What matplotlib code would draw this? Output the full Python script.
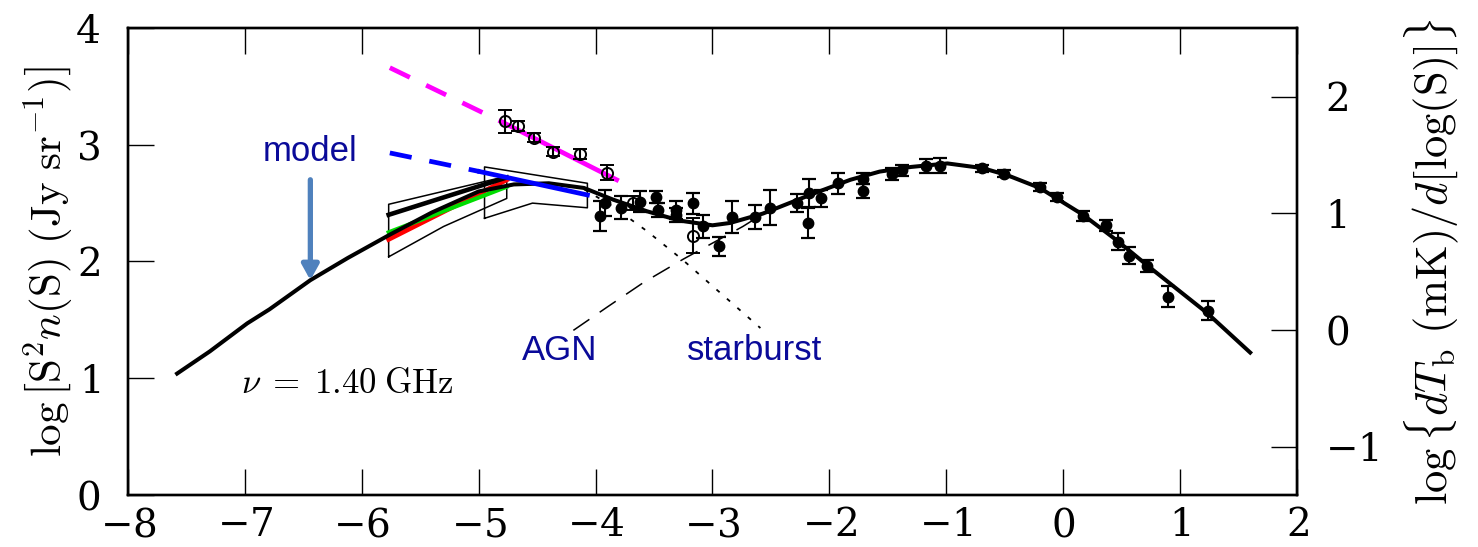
import numpy as np
import matplotlib
matplotlib.use('Agg')
import matplotlib.pyplot as plt

plt.rcParams['mathtext.fontset'] = 'cm'
plt.rcParams['axes.formatter.use_mathtext'] = True
plt.rcParams['font.family'] = 'serif'
plt.rcParams['font.serif'] = ['DejaVu Serif']
plt.rcParams['lines.scale_dashes'] = False

# model curve (solid black)
curve_x = [-7.58, -7.3, -6.98, -6.79, -6.44, -6.12, -5.76, -5.4, -5.0, -4.7, -4.4, -4.1,
           -3.85, -3.56, -3.28, -3.0, -2.85, -2.57, -2.14, -1.82, -1.57, -1.3, -0.99,
           -0.69, -0.48, -0.2, 0.17, 0.46, 0.74, 1.23, 1.6]
curve_y = [1.04, 1.23, 1.47, 1.59, 1.84, 2.03, 2.23, 2.42, 2.60, 2.66, 2.67, 2.63,
           2.53, 2.43, 2.35, 2.31, 2.33, 2.41, 2.58, 2.70, 2.77, 2.81, 2.84,
           2.80, 2.74, 2.63, 2.40, 2.18, 1.95, 1.56, 1.22]

# starburst (dotted) and AGN (dashed) components
sb_x = [-4.1, -3.85, -3.56, -3.25, -3.0, -2.59]
sb_y = [2.62, 2.47, 2.26, 2.01, 1.79, 1.43]
agn_x = [-4.19, -3.90, -3.59, -3.25, -2.74, -2.5]
agn_y = [1.41, 1.61, 1.82, 2.02, 2.30, 2.45]

# magenta and blue fits: dashed extrapolation, then solid
mag_x = [-5.76, -4.79, -3.82]
mag_y = [3.66, 3.19, 2.70]
blue_x = [-5.76, -4.99, -4.07]
blue_y = [2.93, 2.77, 2.57]

# P(D) boxes
box1_x = [-5.77, -5.77, -4.76, -4.76, -5.3, -5.77]
box1_y = [2.04, 2.49, 2.73, 2.54, 2.30, 2.04]
box2_x = [-4.95, -4.95, -4.07, -4.07, -4.54, -4.95]
box2_y = [2.37, 2.81, 2.67, 2.46, 2.50, 2.37]

# lines inside box 1
blk_x, blk_y = [-5.77, -4.76], [2.40, 2.72]
red_x, red_y = [-5.77, -4.76], [2.19, 2.70]
grn_x, grn_y = [-5.77, -4.76], [2.25, 2.64]

# filled points with errors
pt_x = [-3.96, -3.92, -3.78, -3.62, -3.48, -3.47, -3.31, -3.31, -3.17, -3.08, -2.94,
        -2.83, -2.64, -2.51, -2.28, -2.18, -2.17, -2.07, -1.93, -1.71, -1.71, -1.46,
        -1.38, -1.17, -1.05, -0.69, -0.51, -0.20, -0.05, 0.17, 0.37, 0.47, 0.56,
        0.72, 0.90, 1.24]
pt_y = [2.39, 2.50, 2.46, 2.51, 2.55, 2.44, 2.44, 2.40, 2.50, 2.30, 2.13,
        2.38, 2.38, 2.46, 2.50, 2.33, 2.59, 2.54, 2.67, 2.71, 2.60, 2.75,
        2.78, 2.82, 2.82, 2.80, 2.75, 2.64, 2.55, 2.39, 2.31, 2.17, 2.05,
        1.96, 1.70, 1.58]
pt_e = [0.13, 0.11, 0.10, 0.09, 0.05, 0.06, 0.08, 0.06, 0.09, 0.10, 0.08,
        0.14, 0.10, 0.15, 0.08, 0.13, 0.12, 0.07, 0.09, 0.05, 0.06, 0.05,
        0.05, 0.06, 0.065, 0.03, 0.03, 0.035, 0.035, 0.045, 0.045, 0.07, 0.07,
        0.05, 0.09, 0.08]

# open points with errors
op_x = [-4.775, -4.66, -4.53, -4.36, -4.13, -3.90, -3.68, -3.17]
op_y = [3.20, 3.16, 3.06, 2.94, 2.92, 2.76, 2.50, 2.22]
op_e = [0.10, 0.045, 0.04, 0.04, 0.04, 0.065, 0.06, 0.15]

fig = plt.figure(figsize=(14.78, 5.47), dpi=100)
ax = fig.add_axes([0.0866, 0.0951, 0.7909, 0.8537])

ax.plot(box1_x, box1_y, color='black', lw=1.1)
ax.plot(box2_x, box2_y, color='black', lw=1.1)
ax.plot(red_x, red_y, color='red', lw=3.5)
ax.plot(grn_x, grn_y, color='#00dd00', lw=3.0)
ax.plot(blk_x, blk_y, color='black', lw=3.3)

ax.plot(sb_x, sb_y, color='black', lw=1.3, dashes=(3, 7))
ax.plot(agn_x, agn_y, color='black', lw=1.1, dashes=(14, 9))

ax.plot(curve_x, curve_y, color='black', lw=2.9, solid_joinstyle='round')

ax.plot(mag_x[:2], mag_y[:2], color='magenta', lw=3.4, dashes=(16, 13))
ax.plot(mag_x[1:], mag_y[1:], color='magenta', lw=3.4)
ax.plot(blue_x[:2], blue_y[:2], color='blue', lw=3.4, dashes=(16, 13))
ax.plot(blue_x[1:], blue_y[1:], color='blue', lw=3.4)

ax.errorbar(pt_x, pt_y, yerr=pt_e, fmt='o', color='black', ms=7.5,
            capsize=5, elinewidth=1.5, capthick=1.6)
ax.errorbar(op_x, op_y, yerr=op_e, fmt='o', color='black', mfc='none', ms=8,
            mew=1.4, capsize=5, elinewidth=1.5, capthick=1.6)

ax.annotate('', xy=(-6.44, 1.84), xytext=(-6.44, 2.70),
            arrowprops=dict(arrowstyle='-|>,head_length=0.9,head_width=0.5',
                            color='#4f81bd', lw=3.8, shrinkA=0, shrinkB=0))

blue_txt = '#0a0a99'
ax.text(-6.44, 2.94, 'model', color=blue_txt, fontsize=25,
        family='Liberation Sans', ha='center', va='center')
ax.text(-4.31, 1.24, 'AGN', color=blue_txt, fontsize=25,
        family='Liberation Sans', ha='center', va='center')
ax.text(-2.64, 1.24, 'starburst', color=blue_txt, fontsize=25,
        family='Liberation Sans', ha='center', va='center')
ax.text(-7.03, 0.96, r'$\nu\;=\;1.40\;\mathrm{GHz}$', fontsize=25,
        ha='left', va='center')

ax.set_xlim(-8, 2)
ax.set_ylim(0, 4)
ax.set_xticks(np.arange(-8, 3, 1))
ax.set_yticks([0, 1, 2, 3, 4])
ax.tick_params(axis='both', direction='in', length=19, width=1.0,
               labelsize=28, top=True, right=False)
ax.tick_params(axis='x', pad=9)
ax.tick_params(axis='y', pad=20)
for s in ax.spines.values():
    s.set_linewidth(1.7)
ax.set_ylabel(r'$\log\left[\mathrm{S}^2n(\mathrm{S})\ (\mathrm{Jy\ sr}^{-1})\right]$',
              fontsize=31, labelpad=0)

ax2 = ax.twinx()
off = 1.413
ax2.set_ylim(0 - off, 4 - off)
ax2.set_yticks([-1, 0, 1, 2])
ax2.tick_params(axis='y', direction='in', length=19, width=1.0, labelsize=28, pad=20)
for s in ax2.spines.values():
    s.set_linewidth(1.7)
ax2.set_ylabel(r'$\log\{dT_\mathrm{b}\ (\mathrm{mK})/d[\log(\mathrm{S})]\}$',
               fontsize=32, labelpad=18)

fig.savefig('out.png', dpi=100)
